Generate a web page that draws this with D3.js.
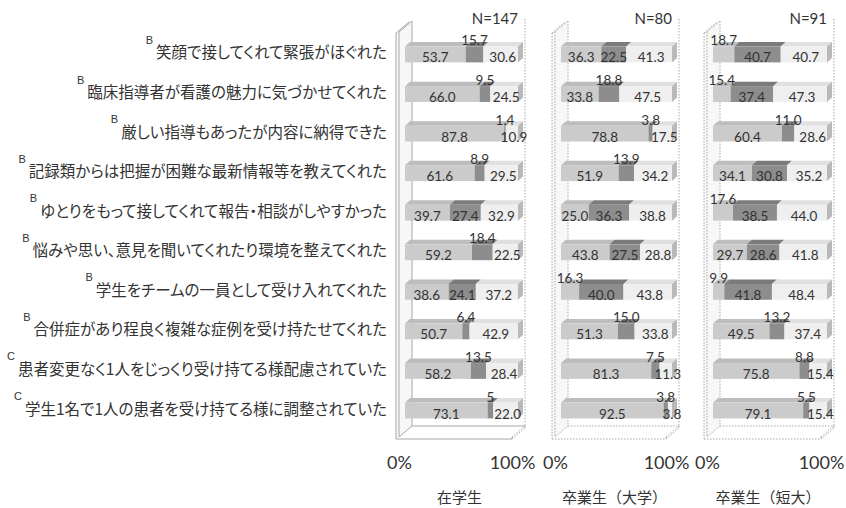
<!DOCTYPE html>
<html>
<head>
<meta charset="utf-8">
<script src="https://cdn.jsdelivr.net/npm/d3@7"></script>
<style>
  html, body { margin: 0; padding: 0; background: #fff; }
  svg { display: block; }
  .cat { font-feature-settings: "palt" 1; }
</style>
</head>
<body>
<script>
// ---- data ----
const categories = [
  "笑顔で接してくれて緊張がほぐれた",
  "臨床指導者が看護の魅力に気づかせてくれた",
  "厳しい指導もあったが内容に納得できた",
  "記録類からは把握が困難な最新情報等を教えてくれた",
  "ゆとりをもって接してくれて報告・相談がしやすかった",
  "悩みや思い、意見を聞いてくれたり環境を整えてくれた",
  "学生をチームの一員として受け入れてくれた",
  "合併症があり程良く複雑な症例を受け持たせてくれた",
  "患者変更なく1人をじっくり受け持てる様配慮されていた",
  "学生1名で1人の患者を受け持てる様に調整されていた"
];
const grades = ["B", "B", "B", "B", "B", "B", "B", "B", "C", "C"];

const groupNames = ["在学生", "卒業生（大学）", "卒業生（短大）"];
const groupN = ["N=147", "N=80", "N=91"];

// three response shares per item, as printed (percent)
const student1 = ["53.7","66.0","87.8","61.6","39.7","59.2","38.6","50.7","58.2","73.1"];
const student2 = ["15.7","9.5","1.4","8.9","27.4","18.4","24.1","6.4","13.5","5"];
const student3 = ["30.6","24.5","10.9","29.5","32.9","22.5","37.2","42.9","28.4","22.0"];

const univ1 = ["36.3","33.8","78.8","51.9","25.0","43.8","16.3","51.3","81.3","92.5"];
const univ2 = ["22.5","18.8","3.8","13.9","36.3","27.5","40.0","15.0","7.5","3.8"];
const univ3 = ["41.3","47.5","17.5","34.2","38.8","28.8","43.8","33.8","11.3","3.8"];

const junior1 = ["18.7","15.4","60.4","34.1","17.6","29.7","9.9","49.5","75.8","79.1"];
const junior2 = ["40.7","37.4","11.0","30.8","38.5","28.6","41.8","13.2","8.8","5.5"];
const junior3 = ["40.7","47.3","28.6","35.2","44.0","41.8","48.4","37.4","15.4","15.4"];

const axisTicks = [0, 100];

// ---- layout ----
const W = 846, H = 508;
const panels = [
  { name: groupNames[0], n: groupN[0], series: [student1, student2, student3], x0: 399, w: 113, dash: null },
  { name: groupNames[1], n: groupN[1], series: [univ1, univ2, univ3], x0: 555, w: 111, dash: "1.5,1.5" },
  { name: groupNames[2], n: groupN[2], series: [junior1, junior2, junior3], x0: 707, w: 114, dash: "1.5,1.5" }
];
const frameTop = 32, frameBottom = 437;     // front plane
const depth = { dx: 13, dy: -11 };          // full plot depth
const barDepth = { dx: 5, dy: -4.5 };       // bar thickness in depth
const barShift = 6;                         // bars sit mid-depth

const segFront = ["#cbcbcb", "#8d8d8d", "#efefef"];
const segTop   = ["#bdbdbd", "#7b7b7b", "#e0e0e0"];
const segSide  = ["#a9a9a9", "#6d6d6d", "#b9b9b9"];
const textColor = "#333";
const frameColor = "#a8a8a8";

const svg = d3.select("body").append("svg")
  .attr("width", W).attr("height", H)
  .style("background", "#fff");

const y = d3.scaleBand()
  .domain(d3.range(categories.length))
  .range([34.7, 430.3])
  .paddingInner(0.6)
  .paddingOuter(0.3);

// ---- category labels ----
const labelRight = 387, labelMinLeft = 14;
const catG = svg.append("g");
categories.forEach((c, i) => {
  const cy = y(i) + y.bandwidth() / 2 - 3;
  const t = catG.append("text")
    .attr("class", "cat")
    .attr("x", labelRight).attr("y", cy)
    .attr("text-anchor", "end")
    .attr("dominant-baseline", "central")
    .attr("font-family", "'Noto Sans CJK JP', sans-serif")
    .attr("font-size", 15.5)
    .attr("fill", textColor)
    .text(c);
  // keep the longest items inside the left margin
  let bb = t.node().getBBox();
  if (bb.x < labelMinLeft) {
    t.attr("textLength", labelRight - labelMinLeft).attr("lengthAdjust", "spacingAndGlyphs");
    bb = t.node().getBBox();
  }
  catG.append("text")
    .attr("x", bb.x - 3).attr("y", cy - 11.5)
    .attr("text-anchor", "end")
    .attr("dominant-baseline", "central")
    .attr("font-family", "'Liberation Sans', Arial, sans-serif")
    .attr("font-size", 11)
    .attr("fill", textColor)
    .text(grades[i]);
});

// ---- panels ----
panels.forEach(p => {
  const g = svg.append("g");
  const x = d3.scaleLinear().domain([0, 100]).range([p.x0, p.x0 + p.w]);
  const xl = x(0), xr = x(100);
  const line = (x1, y1, x2, y2, dash) => g.append("line")
    .attr("x1", x1).attr("y1", y1).attr("x2", x2).attr("y2", y2)
    .attr("stroke", frameColor).attr("stroke-width", 1)
    .attr("stroke-dasharray", dash || null);

  // back wall right edge (100% gridline)
  line(xr + depth.dx, frameTop + depth.dy - 2, xr + depth.dx, frameBottom + depth.dy, "1.5,1.5");

  // left wall slab
  g.append("path")
    .attr("d", `M${xl - 3},${frameTop + 1}L${xl - 3 + depth.dx},${frameTop + 1 + depth.dy}` +
               `L${xl + depth.dx},${frameTop + depth.dy}L${xl + depth.dx},${frameBottom + depth.dy}` +
               `L${xl},${frameBottom}L${xl - 3},${frameBottom + 2}Z`)
    .attr("fill", "#f7f7f7");
  line(xl - 3, frameTop + 1, xl - 3, frameBottom + 2, p.dash);
  line(xl, frameTop, xl, frameBottom, p.dash);
  line(xl + depth.dx, frameTop + depth.dy, xl + depth.dx, frameBottom + depth.dy, p.dash);
  line(xl - 3, frameTop + 1, xl - 3 + depth.dx, frameTop + 1 + depth.dy, p.dash);
  line(xl, frameTop, xl + depth.dx, frameTop + depth.dy, p.dash);

  // floor slab
  line(xl + depth.dx, frameBottom + depth.dy, xr + depth.dx, frameBottom + depth.dy, p.dash);
  line(xl, frameBottom, xl + depth.dx, frameBottom + depth.dy, p.dash);
  line(xr, frameBottom, xr + depth.dx, frameBottom + depth.dy, "1.5,1.5");
  line(xl - 3, frameBottom + 2, xr, frameBottom + 2, p.dash);
  line(xr, frameBottom + 2, xr + depth.dx, frameBottom + 2 + depth.dy, "1.5,1.5");
  line(xr, frameBottom, xr, frameBottom + 2, p.dash);
  line(xr + depth.dx, frameBottom + depth.dy, xr + depth.dx, frameBottom + 2 + depth.dy, p.dash);

  // stacked 3D bars
  const rows = categories.map((c, i) => {
    let acc = 0;
    return p.series.map((s, k) => {
      const v = +s[i];
      const seg = { row: i, k, v, label: s[i], x0: acc, x1: acc + v };
      acc += v;
      return seg;
    });
  });

  rows.forEach(segs => {
    const top = y(segs[0].row), h = y.bandwidth();
    segs.forEach(s => {
      const a = x(s.x0) + barShift, b = x(Math.min(s.x1, 100)) + barShift;
      // top face
      g.append("path")
        .attr("d", `M${a},${top}L${a + barDepth.dx},${top + barDepth.dy}L${b + barDepth.dx},${top + barDepth.dy}L${b},${top}Z`)
        .attr("fill", segTop[s.k]);
      // front face
      g.append("rect")
        .attr("x", a).attr("y", top).attr("width", Math.max(0, b - a)).attr("height", h)
        .attr("fill", segFront[s.k]);
    });
    // right end face
    const last = segs[segs.length - 1];
    const e = x(Math.min(last.x1, 100)) + barShift;
    g.append("path")
      .attr("d", `M${e},${top}L${e + barDepth.dx},${top + barDepth.dy}L${e + barDepth.dx},${top + h + barDepth.dy}L${e},${top + h}Z`)
      .attr("fill", segSide[last.k]);
  });

  // value labels
  rows.forEach(segs => {
    const cy = y(segs[0].row) + y.bandwidth() / 2;
    segs.forEach(s => {
      const raised = s.k < 2 && s.v < 20;
      const cx = (x(s.x0) + x(Math.min(s.x1, 100))) / 2 + barShift + (s.k === 2 ? 2 : 0);
      g.append("text")
        .attr("x", cx)
        .attr("y", raised ? cy - 14 : cy + 3)
        .attr("text-anchor", "middle")
        .attr("dominant-baseline", "central")
        .attr("font-family", "Lato, 'Open Sans', sans-serif")
        .attr("font-size", 13.5)
        .attr("fill", textColor)
        .text(s.label);
    });
  });

  // N label
  g.append("text")
    .attr("x", xr + 6).attr("y", 18)
    .attr("text-anchor", "end")
    .attr("dominant-baseline", "central")
    .attr("font-family", "Lato, 'Open Sans', sans-serif")
    .attr("font-size", 15)
    .attr("fill", textColor)
    .text(p.n);

  // percent axis
  const axis = d3.axisBottom(x).tickValues(axisTicks).tickSize(0).tickFormat(d => d + "%");
  const ag = svg.append("g").attr("transform", "translate(0,453)").call(axis);
  ag.select(".domain").remove();
  ag.selectAll("text")
    .attr("font-family", "Lato, 'Open Sans', sans-serif")
    .attr("font-size", 18)
    .attr("fill", textColor);

  // group title
  svg.append("text")
    .attr("x", (xl + xr) / 2 + 4).attr("y", 496)
    .attr("text-anchor", "middle")
    .attr("dominant-baseline", "central")
    .attr("font-family", "'Noto Sans CJK JP', sans-serif")
    .attr("font-size", 15)
    .attr("fill", textColor)
    .text(p.name);
});
</script>
</body>
</html>
